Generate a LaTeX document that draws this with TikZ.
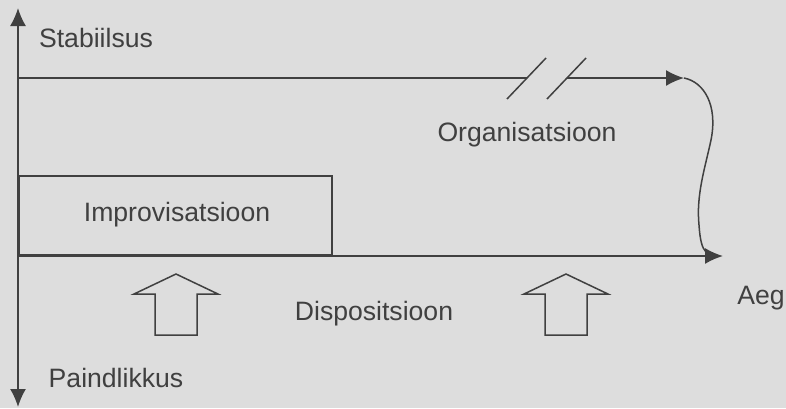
\documentclass[tikz,border=0pt]{standalone}
\usepackage{fontspec}
\setmainfont{Liberation Sans}
\usetikzlibrary{arrows.meta,calc}
\definecolor{paper}{HTML}{DDDDDD}
\definecolor{ink}{HTML}{404040}

\tikzset{
  axis/.style={line width=1.7pt, draw=ink, -{Latex[length=18pt,width=16pt]}},
  plain/.style={line width=1.7pt, draw=ink},
  label/.style={text=ink, font=\fontsize{26.6}{30}\selectfont, inner sep=0pt},
  hollowup/.pic={
    \draw[line width=1.5pt, draw=ink, line join=miter]
      (-21,0) -- (-21,-41) -- (-42,-41) -- (0,-61) -- (42,-41) -- (21,-41) -- (21,0) -- cycle;
  }
}

\begin{document}
\begin{tikzpicture}[x=1pt,y=-1pt]
\fill[paper] (0,0) rectangle (786,408);
\useasboundingbox (0,0) rectangle (786,408);

% axes
\coordinate (origin) at (18,256);
\coordinate (ytop) at (18,8);
\coordinate (ybot) at (18,407);
\coordinate (tend) at (723,256);
\draw[axis] (origin) -- (ytop);
\draw[axis] (origin) -- (ybot);

% improvisation block
\node[draw=ink, line width=1.7pt, minimum width=313pt, minimum height=79pt,
      anchor=south west, inner sep=0pt] (impro) at (origin) {};
\node[label] (improtext) at (177,215) {Improvisatsioon};

\draw[axis] (origin) -- (tend);

% organisation line with break marks
\coordinate (orgstart) at (18,78);
\coordinate (brkA) at (527,78);
\coordinate (brkB) at (567,78);
\coordinate (orgend) at (684,78);
\draw[plain] (orgstart) -- (brkA);
\draw[axis] (brkB) -- (orgend);
\draw[line width=1.5pt, draw=ink] ($(brkA)+(-20,21)$) -- ($(brkA)+(19,-20)$);
\draw[line width=1.5pt, draw=ink] ($(brkB)+(-20,21)$) -- ($(brkB)+(19,-20)$);

% wavy link from organisation back to the time axis
\coordinate (waveend) at (706,252);
\draw[line width=1.5pt, draw=ink] (orgend)
  .. controls (704,82) and (718,105) .. (711,140)
  .. controls (705,168) and (696,195) .. (699,225)
  .. controls (700,240) and (702,248) .. (waveend);

% labels
\node[label] (stab) at (96,38) {Stabiilsus};
\node[label] (org) at (527,135) {Organisatsioon};
\node[label] (disp) at (374,314) {Dispositsioon};
\node[label] (aeg) at (761,298) {Aeg};
\node[label] (paind) at (116,378) {Paindlikkus};

% hollow arrows
\pic at (176,335) {hollowup};
\pic at (566,335) {hollowup};
\end{tikzpicture}
\end{document}
